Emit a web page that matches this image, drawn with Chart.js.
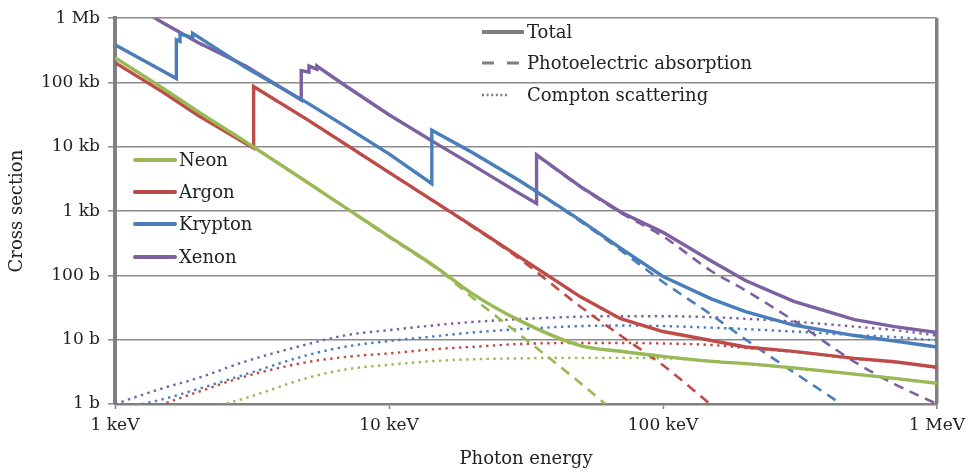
<!DOCTYPE html>
<html>
<head>
<meta charset="utf-8">
<script src="https://cdn.jsdelivr.net/npm/chart.js@4.4.1/dist/chart.umd.min.js"></script>
<style>
  html, body { margin: 0; padding: 0; background: #fff; }
  canvas { display: block; }
</style>
</head>
<body>
<canvas id="chart" width="973" height="473"></canvas>
<script>
// Axis ticks (photon energy in keV, cross section in barns)
const energyTicks = [1, 10, 100, 1000];
const energyTickLabels = ['1 keV', '10 keV', '100 keV', '1 MeV'];
const sigmaTicks = [1, 10, 100, 1e3, 1e4, 1e5, 1e6];
const sigmaTickLabels = ['1 b', '10 b', '100 b', '1 kb', '10 kb', '100 kb', '1 Mb'];

// Common energy grid (keV)
const gridE = [1, 1.5, 2, 3, 5, 7, 10, 15, 20, 30, 50, 70, 100, 150, 200, 300, 500, 700, 1000];

// Neon
const neonTotal = [2.43e5, 8.08e4, 3.57e4, 1.19e4, 2.86e3, 1.10e3, 405, 130, 53, 19.8, 8.1, 6.6, 5.5, 4.6, 4.25, 3.65, 2.92, 2.5, 2.1];
const neonPhotoE = [1, 1.5, 2, 3, 5, 7, 10, 15, 20, 30, 50, 70];
const neonPhoto = [2.42e5, 8.05e4, 3.55e4, 1.18e4, 2.84e3, 1.09e3, 392, 126, 46.4, 12.0, 2.11, 0.63];
const neonCompton = [0.35, 0.55, 0.78, 1.24, 2.52, 3.47, 4.07, 4.69, 4.95, 5.13, 5.22, 5.22, 5.13, 4.69, 4.22, 3.59, 2.9, 2.47, 2.07];

// Argon (K edge 3.206 keV)
const argonTotalE = [1, 1.5, 2, 3, 3.206, 3.206, 5, 7, 10, 15, 20, 30, 50, 70, 100, 150, 200, 300, 500, 700, 1000];
const argonTotal = [2.04e5, 7.01e4, 3.12e4, 1.12e4, 9.58e3, 8.67e4, 2.69e4, 1.07e4, 4.01e3, 1.32e3, 600, 192, 46.4, 21.2, 13.4, 9.72, 7.71, 6.58, 5.13, 4.53, 3.72];
const argonPhotoE = [3.206, 5, 7, 10, 15, 20, 30, 50, 70, 100, 150, 200];
const argonPhoto = [8.6e4, 2.67e4, 1.06e4, 3.98e3, 1.30e3, 585, 180, 32.5, 11.6, 4.0, 0.97, 0.37];
const argonCompton = [0.55, 1.0, 1.53, 2.70, 4.45, 5.41, 6.12, 7.18, 7.71, 8.58, 8.89, 8.89, 8.74, 8.28, 7.45, 6.46, 5.04, 4.45, 3.66];

// Krypton (L edges 1.675 / 1.727 / 1.921 keV, K edge 14.33 keV)
const kryptonTotalE = [1, 1.5, 1.675, 1.675, 1.727, 1.727, 1.921, 1.921, 2, 3, 5, 7, 10, 14.33, 14.33, 15, 20, 30, 50, 70, 100, 150, 200, 300, 500, 700, 1000];
const kryptonTotal = [3.86e5, 1.50e5, 1.15e5, 4.61e5, 4.36e5, 5.71e5, 4.97e5, 5.8e5, 5.22e5, 1.71e5, 4.91e4, 2.02e4, 7.75e3, 2.67e3, 1.82e4, 1.63e4, 8.32e3, 2.97e3, 716, 265, 96.2, 43.2, 27.3, 16.9, 11.6, 9.55, 7.71];
const kryptonPhotoE = [14.33, 15, 20, 30, 50, 70, 100, 150, 200, 300, 500];
const kryptonPhoto = [1.81e4, 1.62e4, 8.2e3, 2.9e3, 690, 247, 79.1, 24.5, 10.1, 3.12, 0.73];
const kryptonCompton = [0.81, 1.19, 1.70, 2.90, 5.70, 7.85, 9.55, 11.4, 12.9, 14.6, 16.3, 16.6, 16.3, 15.4, 14.6, 13.4, 11.8, 11.0, 9.72];

// Xenon (L edges 4.782 / 5.104 / 5.453 keV, K edge 34.56 keV)
const xenonTotalE = [1, 1.5, 2, 3, 4.782, 4.782, 5.104, 5.104, 5.453, 5.453, 7, 10, 15, 20, 30, 34.56, 34.56, 50, 70, 100, 150, 200, 300, 500, 700, 1000];
const xenonTotal = [2.36e6, 8.43e5, 4.22e5, 1.80e5, 5.37e4, 1.53e5, 1.45e5, 1.80e5, 1.61e5, 1.80e5, 8.67e4, 3.15e4, 1.10e4, 5.33e3, 1.87e3, 1.31e3, 7.47e3, 2.40e3, 968, 467, 167, 83.4, 39.5, 20.5, 16.0, 12.9];
const xenonPhotoE = [34.56, 50, 70, 100, 150, 200, 300, 500, 700, 1000];
const xenonPhoto = [7.35e3, 2.37e3, 945, 405, 117, 58.5, 19.8, 4.53, 2.04, 1.0];
const xenonCompton = [1.0, 1.77, 2.52, 4.61, 8.43, 11.8, 14.1, 16.9, 18.8, 20.9, 22.8, 23.2, 23.2, 22.4, 21.2, 19.1, 16.0, 14.1, 11.6];

const elementNames = ['Neon', 'Argon', 'Krypton', 'Xenon'];
const elementColors = ['#98B954', '#BE4B48', '#4A7EBB', '#7D60A0'];
const styleNames = ['Total', 'Photoelectric absorption', 'Compton scattering'];

const TEXT = '#222222';
const AXIS_GRAY = '#808080';
const FONT_FAMILY = '"DejaVu Serif", serif';

function points(es, vs) {
  return es.map((e, i) => ({ x: e, y: vs[i] }));
}

function total(name, color, es, vs, order, smooth) {
  return {
    label: name + ' total', data: points(es, vs), borderColor: color,
    borderWidth: 3.4, pointRadius: 0, order: order, tension: 0,
    cubicInterpolationMode: smooth ? 'monotone' : 'default'
  };
}
function photo(name, color, es, vs, order) {
  return {
    label: name + ' photoelectric', data: points(es, vs), borderColor: color,
    borderWidth: 2.6, borderDash: [10, 7], pointRadius: 0, order: order,
    cubicInterpolationMode: 'monotone'
  };
}
function compton(name, color, vs, order) {
  return {
    label: name + ' Compton', data: points(gridE, vs), borderColor: color,
    borderWidth: 2.4, borderDash: [2.4, 4.4], pointRadius: 0, order: order,
    cubicInterpolationMode: 'monotone'
  };
}

const datasets = [
  total('Krypton', elementColors[2], kryptonTotalE, kryptonTotal, 0, false),
  total('Neon', elementColors[0], gridE, neonTotal, 1, true),
  total('Xenon', elementColors[3], xenonTotalE, xenonTotal, 2, false),
  total('Argon', elementColors[1], argonTotalE, argonTotal, 3, false),
  photo('Neon', elementColors[0], neonPhotoE, neonPhoto, 10),
  photo('Argon', elementColors[1], argonPhotoE, argonPhoto, 11),
  photo('Krypton', elementColors[2], kryptonPhotoE, kryptonPhoto, 12),
  photo('Xenon', elementColors[3], xenonPhotoE, xenonPhoto, 13),
  compton('Neon', elementColors[0], neonCompton, 20),
  compton('Argon', elementColors[1], argonCompton, 21),
  compton('Krypton', elementColors[2], kryptonCompton, 22),
  compton('Xenon', elementColors[3], xenonCompton, 23)
];

// Two keys drawn inside the plot: line styles (top) and elements (left)
const keyPlugin = {
  id: 'keys',
  afterDatasetsDraw(chart) {
    const ctx = chart.ctx;
    ctx.save();
    ctx.font = '18px ' + FONT_FAMILY;
    ctx.fillStyle = TEXT;
    ctx.textBaseline = 'middle';
    ctx.textAlign = 'left';

    // line style key
    const sx0 = 482, sx1 = 524, sText = 527, sRows = [32, 63, 95];
    ctx.strokeStyle = '#7f7f7f';
    // solid
    ctx.lineWidth = 4; ctx.setLineDash([]);
    ctx.beginPath(); ctx.moveTo(sx0, sRows[0]); ctx.lineTo(sx1, sRows[0]); ctx.stroke();
    // dashed
    ctx.lineWidth = 3; ctx.setLineDash([12, 13]);
    ctx.beginPath(); ctx.moveTo(sx0, sRows[1]); ctx.lineTo(sx0 + 38, sRows[1]); ctx.stroke();
    // dotted
    ctx.lineWidth = 2.4; ctx.setLineDash([2, 2.6]);
    ctx.beginPath(); ctx.moveTo(sx0, sRows[2]); ctx.lineTo(sx0 + 27, sRows[2]); ctx.stroke();
    ctx.setLineDash([]);
    styleNames.forEach((t, i) => ctx.fillText(t, sText, sRows[i] + 1));

    // element key
    const ex0 = 135, ex1 = 175, eText = 179, eRows = [160, 192, 224, 257];
    elementNames.forEach((name, i) => {
      ctx.strokeStyle = elementColors[i];
      ctx.lineWidth = 4;
      ctx.lineCap = 'round';
      ctx.beginPath(); ctx.moveTo(ex0, eRows[i]); ctx.lineTo(ex1, eRows[i]); ctx.stroke();
      ctx.fillText(name, eText, eRows[i] + 1);
    });
    ctx.restore();
  }
};

new Chart(document.getElementById('chart'), {
  type: 'line',
  data: { datasets: datasets },
  plugins: [keyPlugin],
  options: {
    responsive: false,
    animation: false,
    devicePixelRatio: 1,
    parsing: true,
    layout: { padding: { top: 15, right: 36, left: 0, bottom: 0 } },
    plugins: { legend: { display: false }, tooltip: { enabled: false } },
    font: { family: FONT_FAMILY },
    scales: {
      x: {
        type: 'logarithmic',
        min: 1, max: 1000,
        afterBuildTicks: (scale) => { scale.ticks = energyTicks.map(v => ({ value: v })); },
        afterFit: (scale) => { scale.height = 69; },
        ticks: {
          autoSkip: false, maxRotation: 0, padding: 6, color: TEXT,
          font: { family: FONT_FAMILY, size: 17 },
          callback: (v, i) => energyTickLabels[i]
        },
        grid: {
          drawOnChartArea: true,
          color: (c) => (c.index === energyTicks.length - 1 ? AXIS_GRAY : 'rgba(0,0,0,0)'),
          lineWidth: (c) => (c.index === energyTicks.length - 1 ? 3.5 : 1),
          tickColor: AXIS_GRAY, tickWidth: 1.5, tickLength: 5
        },
        border: { display: true, color: AXIS_GRAY, width: 2.5 },
        title: {
          display: true, text: 'Photon energy', color: TEXT,
          font: { family: FONT_FAMILY, size: 18 }, padding: { top: 0, bottom: 3 }
        }
      },
      y: {
        type: 'logarithmic',
        min: 1, max: 1e6,
        afterBuildTicks: (scale) => { scale.ticks = sigmaTicks.map(v => ({ value: v })); },
        afterFit: (scale) => { scale.width = 115; },
        ticks: {
          autoSkip: false, padding: 8, color: TEXT,
          font: { family: FONT_FAMILY, size: 17 },
          callback: (v, i) => sigmaTickLabels[i]
        },
        grid: { color: '#8c8c8c', lineWidth: 1.6, tickLength: 7 },
        border: { display: true, color: AXIS_GRAY, width: 4 },
        title: {
          display: true, text: 'Cross section', color: TEXT,
          font: { family: FONT_FAMILY, size: 18 }, padding: { top: 7, bottom: 0 }
        }
      }
    }
  }
});
</script>
</body>
</html>
